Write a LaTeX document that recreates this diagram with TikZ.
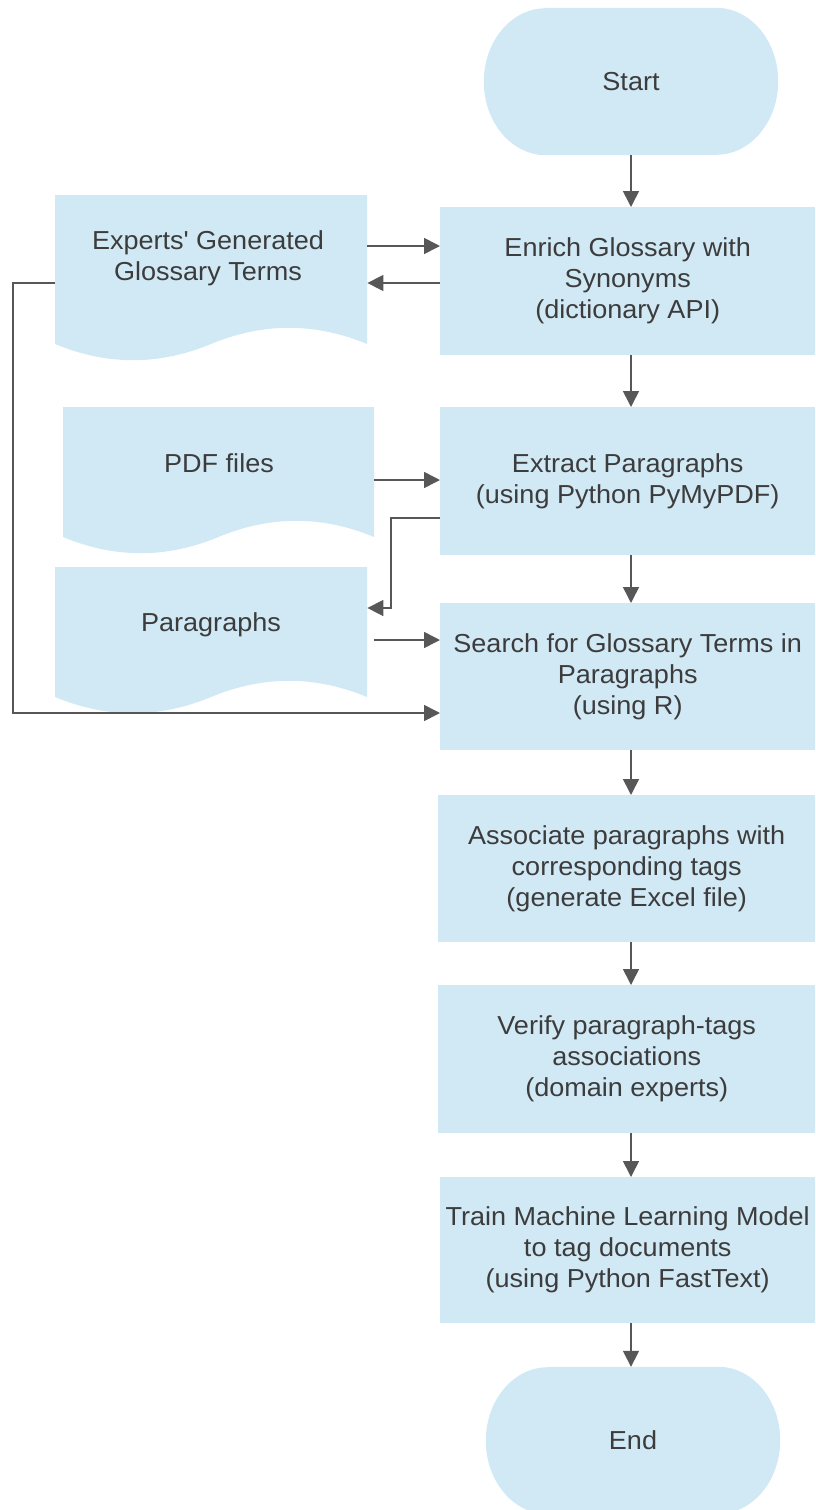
\documentclass[tikz,border=0pt]{standalone}
\usepackage{fontspec}
\setmainfont{Liberation Sans}[FakeStretch=1.04]
\usetikzlibrary{arrows.meta,backgrounds,calc}
\definecolor{boxfill}{HTML}{D1E8F5}
\definecolor{txt}{HTML}{3C3C3C}
\definecolor{lin}{HTML}{575757}
\tikzset{
  lbl/.style={font=\fontsize{26}{31}\selectfont, text=txt, align=center, inner sep=0pt},
  procbox/.style={lbl, fill=boxfill, minimum height=148pt, anchor=north west},
  holder/.style={inner sep=0pt, anchor=north west},
  term/.style={lbl, minimum width=294pt, minimum height=147pt},
  arr/.style={draw=lin, line width=1.6pt, -{Triangle[length=16pt,width=16pt]}},
}
\newcommand\docfill[5]{\fill[boxfill] (#1,#2) -- ({#1+#3},#2) -- ({#1+#3},{#2+#4-#5/2})
  .. controls ({#1+5*#3/6},{#2+#4-1.1*#5}) and ({#1+2*#3/3},{#2+#4-1.1*#5}) .. ({#1+#3/2},{#2+#4-#5/2})
  .. controls ({#1+#3/3},{#2+#4+0.1*#5}) and ({#1+#3/6},{#2+#4+0.1*#5}) .. (#1,{#2+#4-#5/2}) -- cycle;}
\newcommand\termfill[1]{\fill[boxfill] ([xshift=62pt]#1.north west) -- ([xshift=-62pt]#1.north east)
  arc[start angle=90,end angle=-90,x radius=62pt,y radius=73.5pt] -- ([xshift=62pt]#1.south west)
  arc[start angle=270,end angle=90,x radius=62pt,y radius=73.5pt] -- cycle;}
\begin{document}
\begin{tikzpicture}[x=1pt,y=-1pt]
\useasboundingbox (0,0) rectangle (815,1510);
% terminals
\node[term] (start) at (631,81.5) {Start};
\node[term] (stop) at (633,1440.5) {End};
% process boxes
\node[procbox, minimum width=375pt] (enrich) at (440,207) {Enrich Glossary with\\Synonyms\\(dictionary API)};
\node[procbox, minimum width=375pt] (extract) at (440,407) {Extract Paragraphs\\(using Python PyMyPDF)};
\node[procbox, minimum width=375pt, minimum height=147pt] (search) at (440,603) {Search for Glossary Terms in\\Paragraphs\\(using R)};
\node[procbox, minimum width=377pt, minimum height=147pt] (assoc) at (438,795) {Associate paragraphs with\\corresponding tags\\(generate Excel file)};
\node[procbox, minimum width=377pt] (verify) at (438,985) {Verify paragraph-tags\\associations\\(domain experts)};
\node[procbox, minimum width=375pt, minimum height=146pt] (train) at (440,1177) {Train Machine Learning Model\\to tag documents\\(using Python FastText)};
% documents
\node[holder, minimum width=312pt, minimum height=149pt] (exp) at (55,195) {};
\node[holder, minimum width=311pt, minimum height=130pt] (pdf) at (63,407) {};
\node[holder, minimum width=312pt, minimum height=130pt] (para) at (55,567) {};
\node[lbl] (exptxt) at (208,258) {Experts\textquotesingle{} Generated\\Glossary Terms};
\node[lbl] (pdftxt) at (219,463) {PDF files};
\node[lbl] (paratxt) at (211,625) {Paragraphs};
\begin{pgfonlayer}{background}
  \termfill{start}
  \termfill{stop}
  \docfill{55}{195}{312}{167}{36}
  \docfill{63}{407}{311}{148}{36}
  \docfill{55}{567}{312}{148}{36}
\end{pgfonlayer}
% connectors
\coordinate (ax) at (631,0);
\coordinate (bend) at (391,608);
\coordinate (lft) at (13,713);
\draw[arr] (start.south) -- (start.south |- enrich.north);
\draw[arr] (ax |- enrich.south) -- (ax |- extract.north);
\draw[arr] (ax |- extract.south) -- (ax |- search.north);
\draw[arr] (ax |- search.south) -- (ax |- assoc.north);
\draw[arr] (ax |- assoc.south) -- (ax |- verify.north);
\draw[arr] (ax |- verify.south) -- (ax |- train.north);
\draw[arr] (ax |- train.south) -- (ax |- stop.north);
\draw[arr] (exp.east |- 0,246) -- (enrich.west |- 0,246);
\draw[arr] (enrich.west |- 0,283) -- (exp.east |- 0,283);
\draw[arr] (pdf.east |- 0,480) -- (extract.west |- 0,480);
\draw[arr] (extract.west |- 0,518) -| (bend) -- (para.east |- bend);
\draw[arr] ([xshift=7pt]para.east |- 0,640) -- (search.west |- 0,640);
\draw[arr] (exp.west |- 0,283) -| (lft) -- (search.west |- lft);
\end{tikzpicture}
\end{document}
